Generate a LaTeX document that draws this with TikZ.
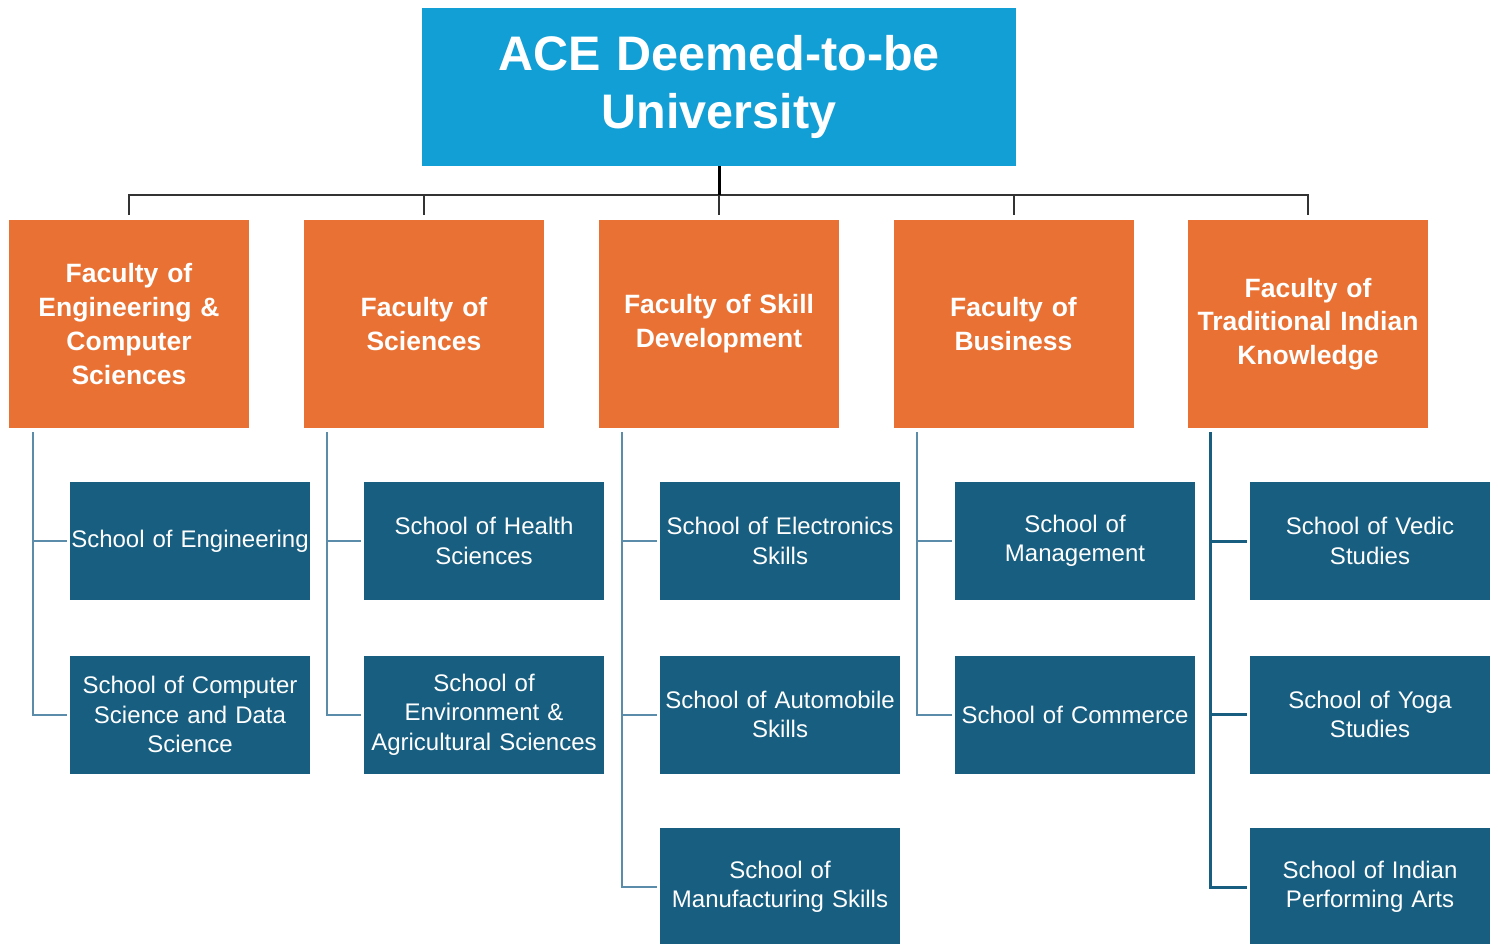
\documentclass[tikz,border=0pt]{standalone}
\usepackage{fontspec}
\setmainfont{Liberation Sans}
\usetikzlibrary{calc}
\definecolor{topblue}{HTML}{129FD6}
\definecolor{facorange}{HTML}{E87133}
\definecolor{schoolblue}{HTML}{175E80}
\definecolor{connblue}{HTML}{5B8DAB}
\definecolor{busgray}{HTML}{333333}
\begin{document}
\begin{tikzpicture}[x=1pt,y=-1pt,
  rootbox/.style={fill=topblue,text=white,font=\fontsize{48.5}{58}\selectfont\bfseries,
    minimum width=594pt,minimum height=158pt,inner sep=2pt,text width=590pt,align=center},
  facbox/.style={fill=facorange,text=white,font=\fontsize{26.5}{33.8}\selectfont\bfseries,
    minimum width=240pt,minimum height=208pt,inner sep=0pt,text width=240pt,align=center},
  schoolbox/.style={fill=schoolblue,text=white,font=\fontsize{24}{29.5}\selectfont,
    minimum width=240pt,minimum height=118pt,inner sep=0pt,text width=240pt,align=center},
  busline/.style={draw=busgray,line width=2pt},
  rootline/.style={draw=black,line width=3pt},
  conn/.style={draw=connblue,line width=2pt,shorten >=3pt},
  connb/.style={draw=schoolblue,line width=3pt,shorten >=3pt}]
\useasboundingbox (0,0) rectangle (1498,943);
\begin{scope}
\clip (0,0) rectangle (1498,943);
\node[rootbox] (root) at (719,87) {ACE Deemed-to-be\\University};

\node[facbox] (f1) at (129,324) {Faculty of\\Engineering \&\\Computer\\Sciences};
\node[facbox] (f2) at (424,324) {Faculty of\\Sciences};
\node[facbox] (f3) at (719,324) {Faculty of Skill\\Development};
\node[facbox] (f4) at (1013.5,324) {Faculty of\\Business};
\node[facbox] (f5) at (1308,324) {Faculty of\\Traditional Indian\\Knowledge};

\node[schoolbox] (s11) at (190,541) {\mbox{School of Engineering}};
\node[schoolbox] (s12) at (190,714.5) {School of Computer\\Science and Data\\Science};
\node[schoolbox] (s21) at (484,541) {School of Health\\Sciences};
\node[schoolbox] (s22) at (484,714.5) {School of\\Environment \&\\Agricultural Sciences};
\node[schoolbox] (s31) at (780,541) {School of Electronics\\Skills};
\node[schoolbox] (s32) at (780,714.5) {School of Automobile\\Skills};
\node[schoolbox] (s33) at (780,887) {School of\\Manufacturing Skills};
\node[schoolbox] (s41) at (1075,541) {School of\\Management};
\node[schoolbox] (s42) at (1075,714.5) {School of Commerce};
\node[schoolbox] (s51) at (1370,541) {School of Vedic\\Studies};
\node[schoolbox] (s52) at (1370,714.5) {School of Yoga\\Studies};
\node[schoolbox] (s53) at (1370,887) {School of Indian\\Performing Arts};

% bus
\coordinate (b) at ($(root.south)+(0,29)$);
\draw[busline] ($(f1.north)+(0,-5)$) |- (b -| f5.north) -- ($(f5.north)+(0,-5)$);
\draw[busline] ($(f2.north)+(0,-5)$) -- (b -| f2.north);
\draw[busline] ($(f3.north)+(0,-5)$) -- (b -| f3.north);
\draw[busline] ($(f4.north)+(0,-5)$) -- (b -| f4.north);
\draw[rootline] (root.south) -- (b);

% school connectors
\draw[conn] ($(f1.south west)+(24,4)$) |- (s11.west);
\draw[conn] ($(f1.south west)+(24,4)$) |- (s12.west);
\draw[conn] ($(f2.south west)+(23,4)$) |- (s21.west);
\draw[conn] ($(f2.south west)+(23,4)$) |- (s22.west);
\draw[conn] ($(f3.south west)+(23,4)$) |- (s31.west);
\draw[conn] ($(f3.south west)+(23,4)$) |- (s32.west);
\draw[conn] ($(f3.south west)+(23,4)$) |- (s33.west);
\draw[conn] ($(f4.south west)+(24,4)$) |- (s41.west);
\draw[conn] ($(f4.south west)+(24,4)$) |- (s42.west);
\draw[connb] ($(f5.south west)+(23,4)$) |- (s51.west);
\draw[connb] ($(f5.south west)+(23,4)$) |- (s52.west);
\draw[connb] ($(f5.south west)+(23,4)$) |- (s53.west);
\end{scope}
\end{tikzpicture}
\end{document}
